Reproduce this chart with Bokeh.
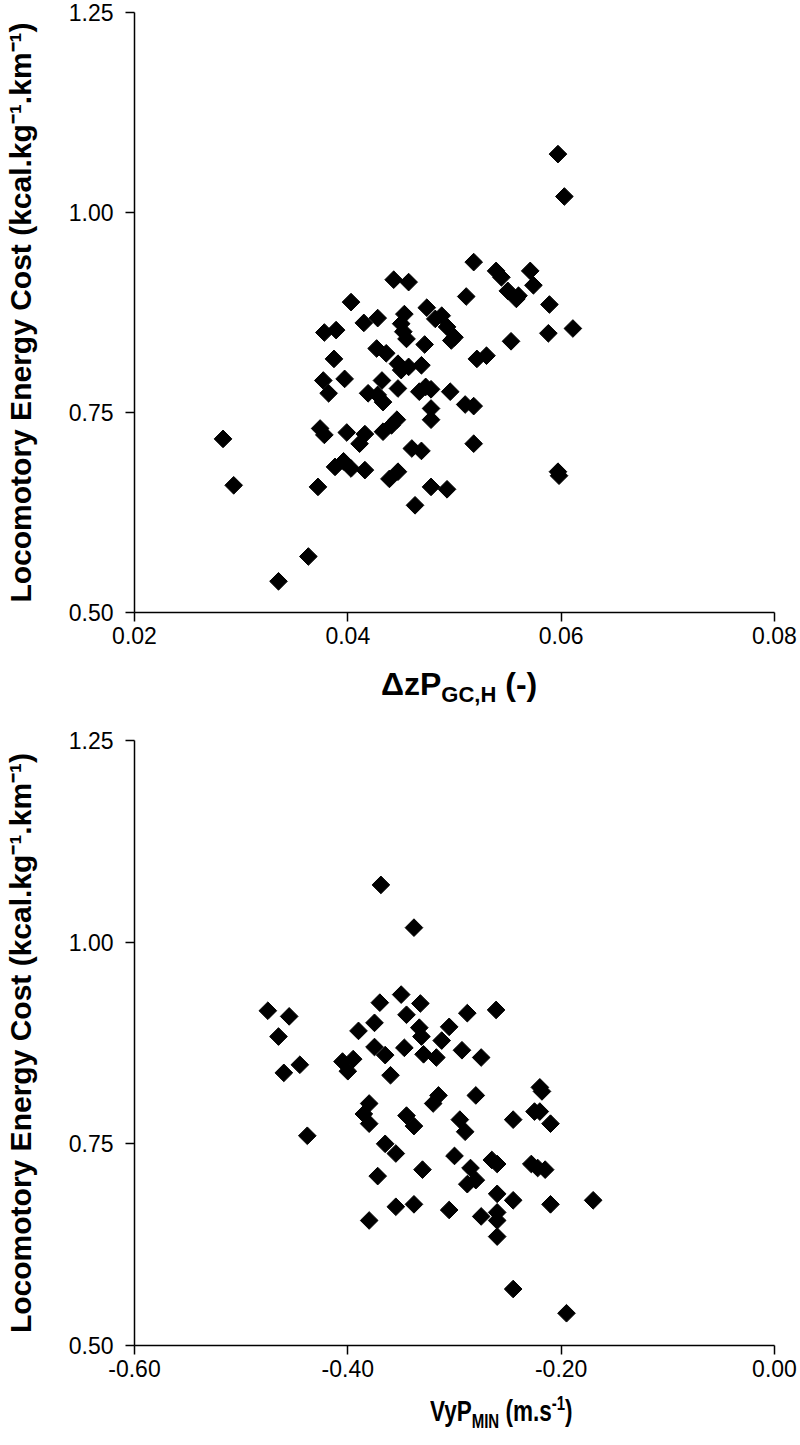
import numpy as np
from bokeh.plotting import figure
from bokeh.layouts import column
from bokeh.models import Range1d, FixedTicker, NumeralTickFormatter, Div
from bokeh.embed import file_html
from bokeh.resources import INLINE

# ---- data ----
dz_pgc = [0.0597, 0.0603, 0.0518, 0.0539, 0.0544, 0.0550, 0.0558, 0.0560, 0.0571, 0.0574,
          0.0589, 0.0588, 0.0611, 0.0511, 0.0457, 0.0474, 0.0482, 0.0488, 0.0493, 0.0497,
          0.0500, 0.0453, 0.0450, 0.0455, 0.0472, 0.0521, 0.0530, 0.0553, 0.0469,
          0.0443, 0.0403, 0.0415, 0.0428, 0.0452, 0.0378, 0.0389, 0.0427, 0.0436, 0.0387,
          0.0447, 0.0450, 0.0457, 0.0377, 0.0382, 0.0397, 0.0419, 0.0432, 0.0428, 0.0433,
          0.0447,
          0.0283, 0.0293, 0.0363, 0.0335, 0.0372, 0.0374, 0.0378, 0.0399, 0.0411, 0.0416,
          0.0433, 0.0441, 0.0446, 0.0388, 0.0396, 0.0403, 0.0416, 0.0439, 0.0447, 0.0460,
          0.0469, 0.0463, 0.0478, 0.0493, 0.0518, 0.0467, 0.0473, 0.0478, 0.0478, 0.0478,
          0.0496, 0.0510, 0.0518, 0.0597, 0.0598]
cost_top = [1.073, 1.020, 0.938, 0.927, 0.919, 0.902, 0.892, 0.896, 0.927, 0.909,
            0.885, 0.849, 0.855, 0.895, 0.913, 0.881, 0.867, 0.871, 0.857, 0.840,
            0.844, 0.873, 0.861, 0.842, 0.835, 0.817, 0.821, 0.839, 0.809,
            0.916, 0.888, 0.862, 0.868, 0.851, 0.850, 0.853, 0.830, 0.824, 0.817,
            0.811, 0.803, 0.807, 0.790, 0.774, 0.792, 0.774, 0.790, 0.772, 0.763,
            0.780,
            0.717, 0.659, 0.570, 0.539, 0.657, 0.730, 0.722, 0.725, 0.711, 0.723,
            0.726, 0.734, 0.741, 0.682, 0.689, 0.680, 0.678, 0.667, 0.676, 0.705,
            0.702, 0.634, 0.657, 0.654, 0.711, 0.776, 0.782, 0.779, 0.755, 0.741,
            0.776, 0.760, 0.758, 0.676, 0.671]

vy_pmin = [-0.369, -0.338, -0.332, -0.345, -0.350, -0.288, -0.261, -0.333, -0.331, -0.305,
           -0.312, -0.347, -0.329, -0.293, -0.317, -0.275,
           -0.475, -0.455, -0.465, -0.460, -0.445, -0.438, -0.405, -0.400, -0.395, -0.390,
           -0.380, -0.385, -0.380, -0.375, -0.375, -0.372, -0.380, -0.370, -0.365, -0.360,
           -0.365, -0.355, -0.355, -0.345, -0.338, -0.330, -0.338, -0.320, -0.315, -0.305,
           -0.300, -0.295, -0.290, -0.288, -0.285, -0.280, -0.280, -0.275, -0.265, -0.260,
           -0.260, -0.260, -0.260, -0.260, -0.245, -0.245, -0.245, -0.225, -0.228, -0.220,
           -0.218, -0.220, -0.222, -0.215, -0.210, -0.210, -0.195, -0.170]
cost_bot = [1.071, 1.018, 0.924, 0.910, 0.935, 0.912, 0.916, 0.894, 0.883, 0.895,
            0.878, 0.869, 0.861, 0.866, 0.857, 0.857,
            0.915, 0.908, 0.883, 0.838, 0.848, 0.760, 0.852, 0.840, 0.855, 0.890,
            0.800, 0.787, 0.775, 0.900, 0.870, 0.710, 0.655, 0.925, 0.860, 0.835,
            0.750, 0.738, 0.672, 0.785, 0.772, 0.718, 0.675, 0.800, 0.810, 0.668,
            0.735, 0.780, 0.765, 0.700, 0.720, 0.810, 0.705, 0.660, 0.730, 0.725,
            0.688, 0.665, 0.655, 0.635, 0.780, 0.680, 0.570, 0.790, 0.725, 0.820,
            0.815, 0.790, 0.720, 0.718, 0.775, 0.675, 0.540, 0.680]

y_ticks = [0.50, 0.75, 1.00, 1.25]
top_x_ticks = [0.02, 0.04, 0.06, 0.08]
bot_x_ticks = [-0.60, -0.40, -0.20, 0.00]
y_title = "Locomotory Energy Cost (kcal.kg\u207b\u00b9.km\u207b\u00b9)"

FONT = "Liberation Sans"


def make_fig(xr, xticks, frame_h, top_b, bot_b):
    p = figure(frame_width=640, frame_height=frame_h,
               x_range=Range1d(*xr), y_range=Range1d(0.5, 1.25),
               output_backend="svg", toolbar_location=None,
               min_border_left=130, min_border_right=23,
               min_border_top=top_b, min_border_bottom=bot_b)
    p.outline_line_color = None
    p.xgrid.visible = False
    p.ygrid.visible = False
    p.background_fill_color = "white"
    p.border_fill_color = "white"
    p.xaxis.ticker = FixedTicker(ticks=xticks)
    p.yaxis.ticker = FixedTicker(ticks=y_ticks)
    p.xaxis.formatter = NumeralTickFormatter(format="0.00")
    p.yaxis.formatter = NumeralTickFormatter(format="0.00")
    for ax in (p.xaxis[0], p.yaxis[0]):
        ax.axis_line_color = "black"
        ax.axis_line_width = 1.5
        ax.major_tick_line_color = "black"
        ax.major_tick_line_width = 1.5
        ax.major_tick_out = 9
        ax.major_tick_in = 0
        ax.minor_tick_out = 0
        ax.minor_tick_in = 0
        ax.major_label_text_font = FONT
        ax.major_label_text_font_size = "23px"
        ax.major_label_text_color = "black"
    p.xaxis.major_label_standoff = 5
    p.yaxis.major_label_standoff = 12
    p.yaxis.axis_label = y_title
    p.yaxis.axis_label_text_font = FONT
    p.yaxis.axis_label_text_font_style = "bold"
    p.yaxis.axis_label_text_font_size = "30px"
    p.yaxis.axis_label_text_color = "black"
    p.yaxis.axis_label_standoff = 29
    return p


def title_div(html, left, top, height, size, squeeze=1.0):
    style = ("display:inline-block;margin-left:%dpx;margin-top:%dpx;"
             "font-family:'Liberation Sans';font-size:%dpx;font-weight:bold;"
             "color:black;white-space:nowrap;line-height:1.1;"
             "transform:scaleX(%.2f);transform-origin:left top"
             % (left, top, size, squeeze))
    return Div(text='<div style="%s">%s</div>' % (style, html),
               width=785, height=height, margin=(0, 0, 0, 0))


p1 = make_fig((0.02, 0.08), top_x_ticks, 600, 12, 45)
p1.scatter(dz_pgc, cost_top, marker="square", angle=np.pi / 4, size=12.5,
           fill_color="black", line_color="black")
d1 = title_div('\u0394zP<sub style="font-size:22px">GC,H</sub> (-)', 381, 10, 60, 32)

p2 = make_fig((-0.60, 0.00), bot_x_ticks, 605, 23, 45)
p2.scatter(vy_pmin, cost_bot, marker="square", angle=np.pi / 4, size=12.5,
           fill_color="black", line_color="black")
d2 = title_div('VyP<sub style="font-size:20px">MIN</sub> (m.s<sup style="font-size:20px">-1</sup>)',
               430, 2, 45, 30, 0.75)

layout = column(p1, d1, p2, d2, spacing=0)
open("out.html", "w").write(file_html(layout, INLINE))
